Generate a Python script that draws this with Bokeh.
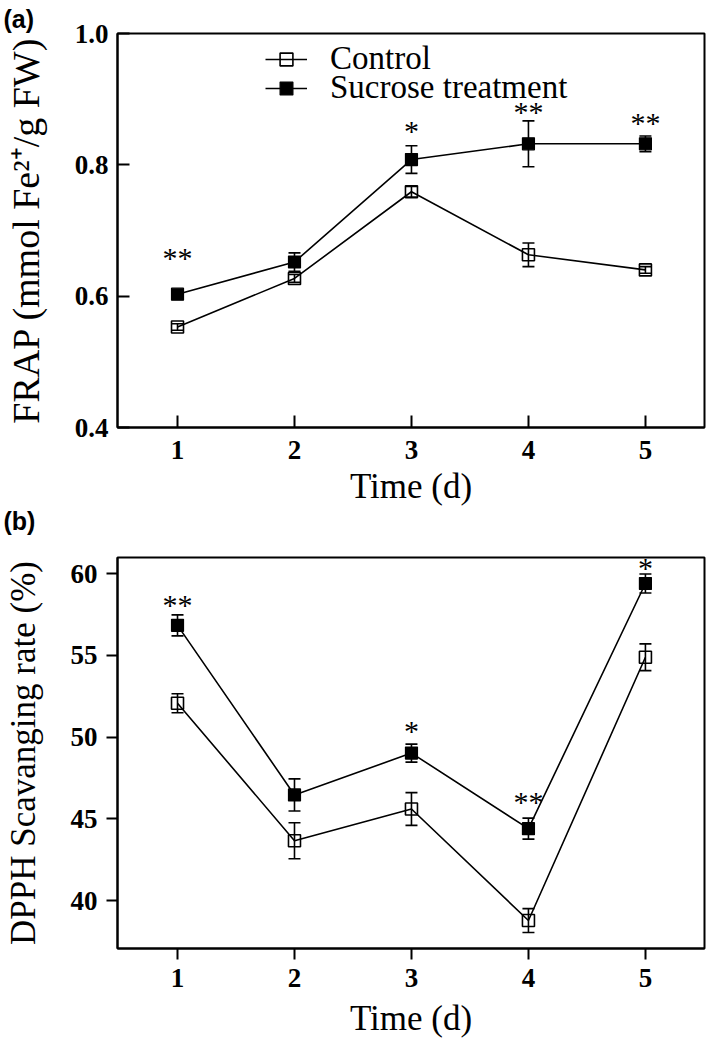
from bokeh.plotting import figure
from bokeh.models import (Whisker, TeeHead, ColumnDataSource, Legend, LegendItem,
                          Title, FixedTicker, Range1d, CustomJSTickFormatter)
from bokeh.layouts import column
from bokeh.embed import file_html
from bokeh.resources import INLINE
from bokeh.core.properties import value

# ---------------- data ----------------
days = [1, 2, 3, 4, 5]
day_ticks = [1, 2, 3, 4, 5]

frap_control = [0.553, 0.627, 0.759, 0.663, 0.640]
frap_control_err = [0.005, 0.006, 0.008, 0.018, 0.005]
frap_sucrose = [0.603, 0.652, 0.808, 0.832, 0.832]
frap_sucrose_err = [0.004, 0.014, 0.021, 0.035, 0.012]
frap_sig_days = [1, 3, 4, 5]
frap_sig_marks = ["**", "*", "**", "**"]
frap_sig_level = [0.662, 0.855, 0.884, 0.868]
frap_ticks = [0.4, 0.6, 0.8, 1.0]

dpph_control = [52.07, 43.66, 45.60, 38.78, 54.88]
dpph_control_err = [0.58, 1.10, 1.00, 0.73, 0.82]
dpph_sucrose = [56.83, 46.46, 49.02, 44.40, 59.39]
dpph_sucrose_err = [0.64, 0.98, 0.55, 0.64, 0.58]
dpph_sig_days = [1, 3, 4, 5]
dpph_sig_marks = ["**", "*", "**", "*"]
dpph_sig_level = [58.23, 50.55, 46.16, 60.49]
dpph_ticks = [40, 45, 50, 55, 60]

SERIF = "Liberation Serif"
SANS = "Liberation Sans"


def make_panel(height, mb_top, mb_bottom, yr, yticks, ylabel, ylabel_size,
               ctrl, ctrl_err, sucr, sucr_err, sig_x, sig_m, sig_y,
               ticks_inside, yfmt, stand):
    p = figure(width=709, height=height, output_backend="svg", toolbar_location=None,
               x_range=Range1d(0.487, 5.505), y_range=Range1d(*yr),
               min_border_left=117, min_border_right=5,
               min_border_top=mb_top, min_border_bottom=mb_bottom)
    p.grid.visible = False
    p.outline_line_color = "black"
    p.outline_line_width = 2
    p.background_fill_color = "white"
    p.border_fill_color = "white"

    for ax in (p.xaxis[0], p.yaxis[0]):
        ax.axis_line_width = 2
        ax.axis_line_color = "black"
        ax.major_tick_line_width = 2
        ax.major_tick_line_color = "black"
        ax.minor_tick_line_color = None
        ax.major_label_text_font = SERIF
        ax.major_label_text_font_style = "bold"
        ax.major_label_text_font_size = "27px"
        ax.major_label_text_color = "black"
        ax.axis_label_text_font = SERIF
        ax.axis_label_text_font_style = "normal"
        ax.axis_label_text_font_size = "35px"
        ax.axis_label_text_color = "black"
        if ticks_inside:
            ax.major_tick_in = 12
            ax.major_tick_out = 0
        else:
            ax.major_tick_in = 0
            ax.major_tick_out = 11
    p.yaxis.axis_label_text_font_size = ylabel_size

    p.xaxis.ticker = FixedTicker(ticks=day_ticks)
    p.yaxis.ticker = FixedTicker(ticks=yticks)
    p.yaxis.formatter = CustomJSTickFormatter(code="return tick.toFixed(%d);" % yfmt)
    p.xaxis.axis_label = "Time (d)"
    p.yaxis.axis_label = ylabel
    xs, xa, ys, ya = stand
    p.xaxis.major_label_standoff = xs
    p.xaxis.axis_label_standoff = xa
    p.yaxis.major_label_standoff = ys
    p.yaxis.axis_label_standoff = ya

    src_c = ColumnDataSource(dict(x=days, y=ctrl,
                                  lo=[v - e for v, e in zip(ctrl, ctrl_err)],
                                  hi=[v + e for v, e in zip(ctrl, ctrl_err)]))
    src_s = ColumnDataSource(dict(x=days, y=sucr,
                                  lo=[v - e for v, e in zip(sucr, sucr_err)],
                                  hi=[v + e for v, e in zip(sucr, sucr_err)]))

    lc = p.line("x", "y", source=src_c, line_color="black", line_width=1.6)
    ls = p.line("x", "y", source=src_s, line_color="black", line_width=1.6)
    for src in (src_c, src_s):
        w = Whisker(base="x", lower="lo", upper="hi", source=src,
                    line_color="black", line_width=1.6,
                    upper_head=TeeHead(size=12, line_color="black", line_width=1.6),
                    lower_head=TeeHead(size=12, line_color="black", line_width=1.6))
        p.add_layout(w)
    sc = p.scatter("x", "y", source=src_c, marker="square", size=12,
                   fill_alpha=0, line_color="black", line_width=1.6)
    ss = p.scatter("x", "y", source=src_s, marker="square", size=12,
                   fill_color="black", line_color="black", line_width=1.2)

    sig = ColumnDataSource(dict(x=sig_x, y=sig_y, t=sig_m))
    p.text("x", "y", text="t", source=sig, text_font=value(SERIF),
           text_font_size="30px", text_align="center", text_baseline="middle",
           y_offset=2, text_color="black")
    return p, (lc, sc, ls, ss)


def tag_title(text, standoff):
    return Title(text=text, align="left", offset=-114, standoff=standoff,
                 text_font=SANS, text_font_style="bold", text_font_size="25px",
                 text_color="black")


# panel (a): frame 33..427 (page px), canvas 0..537
pa, (lc, sc, ls, ss) = make_panel(
    537, 33, 110, (0.4, 1.0), frap_ticks, "FRAP (mmol Fe²⁺/g FW)", "38px",
    frap_control, frap_control_err, frap_sucrose, frap_sucrose_err,
    frap_sig_days, frap_sig_marks, frap_sig_level,
    True, 1, (13, 5, 9, 25))
pa.add_layout(tag_title("(a)", 2), "above")
pa.add_layout(tag_title("(b)", -7), "below")

for lab, rends, yloc in (("Control", [lc, sc], 350),
                         ("Sucrose treatment", [ls, ss], 321)):
    lg = Legend(items=[LegendItem(label=lab, renderers=rends)],
                location=(148, yloc), orientation="vertical",
                glyph_width=42, glyph_height=32, label_standoff=23,
                label_text_font=SERIF, label_text_font_size="33px",
                label_text_color="black", padding=0, margin=0,
                border_line_alpha=0, background_fill_alpha=0)
    pa.add_layout(lg)

# panel (b): canvas 537..1048, frame 557..948
pb, _ = make_panel(
    511, 20, 100, (37.07, 60.98), dpph_ticks, "DPPH Scavanging rate (%)", "35px",
    dpph_control, dpph_control_err, dpph_sucrose, dpph_sucrose_err,
    dpph_sig_days, dpph_sig_marks, dpph_sig_level,
    False, 0, (9, 9, 9, 25))

layout = column(pa, pb, spacing=0)
open("out.html", "w").write(file_html(layout, INLINE))
